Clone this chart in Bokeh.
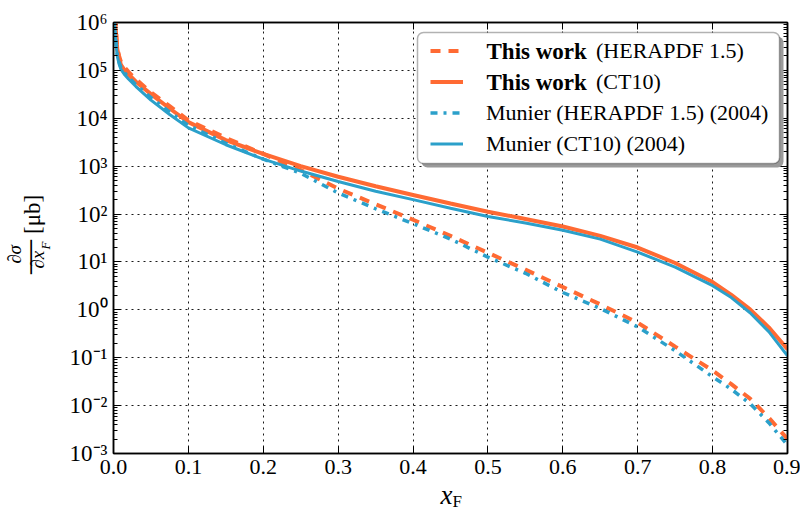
import math
from bokeh.plotting import figure
from bokeh.layouts import column, row
from bokeh.models import (Range1d, FixedTicker, LinearAxis, LogAxis, Legend, LegendItem,
                          Label, BoxAnnotation, CustomJSTickFormatter, PrintfTickFormatter)
from bokeh.embed import file_html
from bokeh.resources import INLINE

# ---------------- data ----------------
x_F = [0.001, 0.002, 0.0035, 0.005, 0.0075, 0.01, 0.015, 0.02, 0.03, 0.05, 0.075, 0.1,
       0.15, 0.2, 0.25, 0.3, 0.35, 0.4, 0.45, 0.5, 0.55, 0.6, 0.65, 0.7, 0.75, 0.8,
       0.825, 0.85, 0.875, 0.9]

this_work_herapdf = [3.2e6, 1.4e6, 6.3e5, 3.0e5, 2.0e5, 1.5e5, 1.15e5, 9.3e4, 6.5e4, 3.5e4,
                     1.8e4, 9.1e3, 3.9e3, 1.8e3, 830, 340, 160, 76, 35, 15.5, 6.9, 3.0, 1.3,
                     0.54, 0.17, 0.054, 0.028, 0.014, 0.0056, 0.002]
this_work_ct10 = [2.8e6, 1.26e6, 5.6e5, 2.8e5, 1.8e5, 1.3e5, 1.0e5, 8.3e4, 5.8e4, 3.2e4,
                  1.6e4, 8.3e3, 3.5e3, 1.8e3, 1.0e3, 600, 380, 250, 166, 112, 79, 55, 35,
                  20, 9.5, 3.8, 2.05, 1.02, 0.43, 0.15]
munier_herapdf = [1.26e6, 6.6e5, 3.7e5, 2.1e5, 1.48e5, 1.15e5, 8.9e4, 7.2e4, 5.0e4, 2.7e4,
                  1.35e4, 7.1e3, 3.0e3, 1.4e3, 710, 275, 129, 63, 30, 12.6, 5.8, 2.3, 1.07,
                  0.44, 0.14, 0.040, 0.022, 0.011, 0.0044, 0.0015]
munier_ct10 = [1.26e6, 6.3e5, 3.5e5, 2.0e5, 1.35e5, 1.05e5, 8.1e4, 6.6e4, 4.6e4, 2.4e4,
               1.2e4, 6.3e3, 2.8e3, 1.4e3, 790, 480, 300, 200, 132, 89, 65, 46, 30, 16,
               7.8, 3.2, 1.8, 0.87, 0.35, 0.11]

x_ticks = [0.0, 0.1, 0.2, 0.3, 0.4, 0.5, 0.6, 0.7, 0.8, 0.9]
y_ticks = [1e-3, 1e-2, 1e-1, 1e0, 1e1, 1e2, 1e3, 1e4, 1e5, 1e6]
y_minor_ticks = [m * t for t in y_ticks[:-1] for m in range(2, 10)]

legend_bold = ["This work", "This work", None, None]
legend_rest = ["(HERAPDF 1.5)", "(CT10)", "Munier (HERAPDF 1.5) (2004)", "Munier (CT10) (2004)"]

ORANGE = "#FF6A33"
BLUE = "#2BA0CA"
SERIF = "Liberation Serif"

# ---------------- layout (pixels on the whole page) ----------------
W, H = 800, 507
LW = 60                 # width of the strip holding the y title
MH = 485                # height of the main plot (x title strip below it)
FL, FR, FT, FB = 113, 787, 22, 453          # frame edges on the page
X0, X1 = 0.0, 0.9
LY0, LY1 = -3, 6

main = figure(width=W - LW, height=MH, output_backend="svg", toolbar_location=None,
              y_axis_type="log", x_range=Range1d(X0, X1), y_range=Range1d(10**LY0, 10**LY1),
              min_border_left=FL - LW, min_border_right=W - FR, min_border_top=FT,
              min_border_bottom=MH - FB)
main.background_fill_color = "white"
main.border_fill_color = "white"
main.outline_line_color = "black"
main.outline_line_width = 1.5


def dx(px):
    """page x pixel -> data x"""
    return X0 + (px - FL) / (FR - FL) * (X1 - X0)


def dy(py):
    """page y pixel -> data y (log axis)"""
    return 10 ** (LY0 + (FB - py) / (FB - FT) * (LY1 - LY0))


xticker = FixedTicker(ticks=x_ticks, minor_ticks=[])
yticker = FixedTicker(ticks=y_ticks, minor_ticks=y_minor_ticks)

sup_code = """
const sup = {'-':'\u207b','0':'\u2070','1':'\u00b9','2':'\u00b2','3':'\u00b3','4':'\u2074',
             '5':'\u2075','6':'\u2076','7':'\u2077','8':'\u2078','9':'\u2079'};
const e = Math.round(Math.log10(tick));
return '10' + String(e).split('').map(c => sup[c]).join('');
"""


def style_axis(ax, show_labels, size="22px"):
    ax.axis_line_color = "black"
    ax.axis_line_width = 1.5
    ax.major_tick_in = 7
    ax.major_tick_out = 0
    ax.minor_tick_in = 4
    ax.minor_tick_out = 0
    ax.major_tick_line_color = "black"
    ax.minor_tick_line_color = "black"
    ax.major_label_text_font = SERIF
    if show_labels:
        ax.major_label_text_color = "black"
        ax.major_label_text_font_size = size
        ax.major_label_standoff = 6
    else:
        ax.major_label_text_color = None
        ax.major_label_text_font_size = "1px"
        ax.major_label_standoff = 0


xa = main.xaxis[0]
xa.ticker = xticker
xa.formatter = PrintfTickFormatter(format="%.1f")
style_axis(xa, True, "22px")
ya = main.yaxis[0]
ya.ticker = yticker
ya.formatter = CustomJSTickFormatter(code=sup_code)
style_axis(ya, True, "23px")

top_ax = LinearAxis(ticker=xticker)
style_axis(top_ax, False)
main.add_layout(top_ax, "above")
right_ax = LogAxis(ticker=yticker)
style_axis(right_ax, False)
main.add_layout(right_ax, "right")

for g, t in ((main.xgrid[0], xticker), (main.ygrid[0], yticker)):
    g.ticker = t
    g.grid_line_color = "black"
    g.grid_line_width = 1
    g.grid_line_dash = "2 4"
    g.grid_line_alpha = 0.9
    g.minor_grid_line_color = None

# ---------------- curves ----------------
r1 = main.line(x_F, this_work_herapdf, line_color=ORANGE, line_width=4, line_dash="10 8")
r2 = main.line(x_F, this_work_ct10, line_color=ORANGE, line_width=4)
r3 = main.line(x_F, munier_herapdf, line_color=BLUE, line_width=3.5, line_dash="7 6 3 6")
r4 = main.line(x_F, munier_ct10, line_color=BLUE, line_width=3)

# ---------------- legend frame (shadow + box) ----------------
shadow = BoxAnnotation(left=dx(421), right=dx(783), top=dy(36), bottom=dy(167),
                       fill_color="#9a9a9a", fill_alpha=1, line_color=None, border_radius=6)
box = BoxAnnotation(left=dx(417), right=dx(779), top=dy(32), bottom=dy(163),
                    fill_color="white", fill_alpha=1, line_color="black", line_width=1.5,
                    border_radius=6)
main.add_layout(shadow)
main.add_layout(box)

pad = "\u2003" * 5
labels = [(pad + r) if b else r for b, r in zip(legend_bold, legend_rest)]
items = [LegendItem(label=l, renderers=[r]) for l, r in zip(labels, [r1, r2, r3, r4])]
legend = Legend(items=items, location=(427 - FL, FB - 162), padding=3, spacing=0,
                glyph_width=33, glyph_height=31, label_height=31, label_standoff=23,
                label_text_font=SERIF, label_text_font_size="22px", label_text_color="black",
                background_fill_alpha=0, border_line_alpha=0)
main.add_layout(legend, "center")

row_centers = [50.5, 81.5]
for b, yc in zip(legend_bold, row_centers):
    main.add_layout(Label(x=dx(486), y=dy(yc), text=b,
                          text_font=SERIF, text_font_style="bold", text_font_size="23px",
                          text_align="left", text_baseline="middle", text_color="black"))


# ---------------- title strips (blank figures whose frame is the whole canvas) ----------------
def strip(width, height):
    f = figure(width=width, height=height, output_backend="svg", toolbar_location=None,
               x_range=Range1d(0, width), y_range=Range1d(0, height),
               x_axis_location=None, y_axis_location=None,
               min_border=0, min_border_left=0, min_border_right=0,
               min_border_top=0, min_border_bottom=0)
    f.outline_line_color = None
    f.background_fill_color = "white"
    f.border_fill_color = "white"
    f.grid.visible = False
    return f


# y title strip: page x = data x, page y = MH - data y
yfig = strip(LW, MH)
rot = math.pi / 2


def ylab(text, px, py, size, style="normal"):
    yfig.add_layout(Label(x=px, y=MH - py, text=text, angle=rot,
                          text_font=SERIF, text_font_style=style,
                          text_font_size=size, text_align="center", text_baseline="middle",
                          text_color="black"))


ylab("\u2202\u03c3", 14, 261, "19px", "italic")
ylab("\u2014", 27, 264, "34px")
ylab("\u2202x", 37, 267, "19px", "italic")
ylab("F", 45, 251, "13px", "italic")
ylab("[\u03bcb]", 32, 216, "23px")

# x title strip: page y = MH + (XH - data y); labels anchored at their middles
XH = H - MH
xfig = strip(W, XH)
xfig.add_layout(Label(x=452, y=XH - (494 - MH), text="x",
                      text_font=SERIF, text_font_style="italic", text_font_size="27px",
                      text_align="right", text_baseline="middle", text_color="black"))
xfig.add_layout(Label(x=452, y=XH - (501 - MH), text="F",
                      text_font=SERIF, text_font_size="17px",
                      text_align="left", text_baseline="middle", text_color="black"))

layout = column(row(yfig, main, spacing=0), xfig, spacing=0)
open("out.html", "w").write(file_html(layout, INLINE))
